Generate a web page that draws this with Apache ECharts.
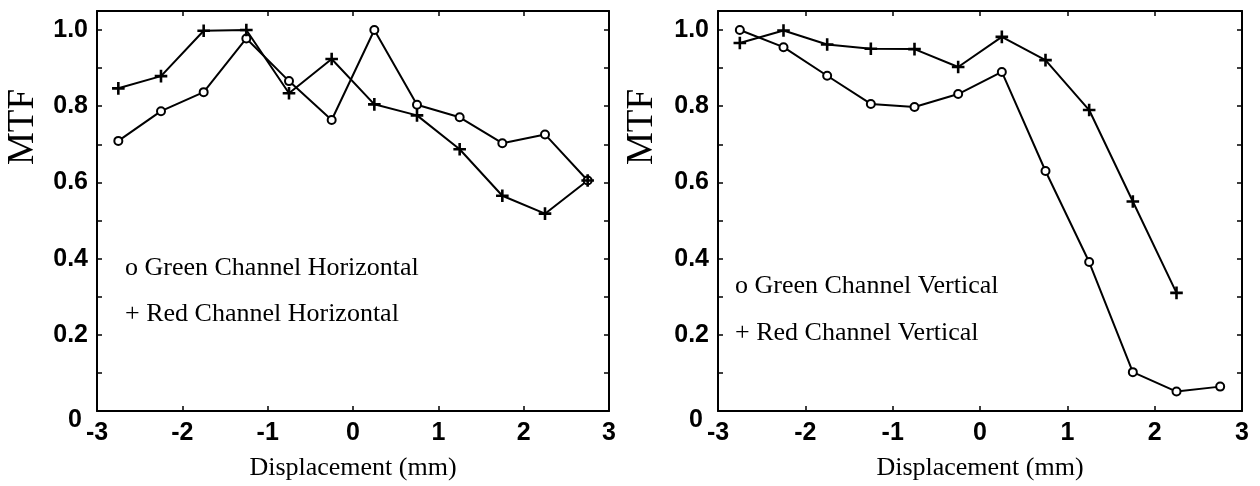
<!DOCTYPE html>
<html>
<head>
<meta charset="utf-8">
<script src="https://cdn.jsdelivr.net/npm/echarts@6/dist/echarts.min.js"></script>
<style>
html,body{margin:0;padding:0;background:#fff}
#main{width:1260px;height:486px}
</style>
</head>
<body>
<div id="main"></div>
<script>
// displacement positions (mm)
var disp = [-2.75, -2.25, -1.75, -1.25, -0.75, -0.25, 0.25, 0.75, 1.25, 1.75, 2.25, 2.75];
// horizontal
var greenH = [0.709, 0.787, 0.837, 0.978, 0.866, 0.764, 1.0, 0.804, 0.771, 0.703, 0.726, 0.605];
var redH = [0.847, 0.879, 0.998, 1.0, 0.834, 0.924, 0.805, 0.776, 0.687, 0.565, 0.518, 0.605];
// vertical
var greenV = [1.0, 0.955, 0.880, 0.806, 0.798, 0.832, 0.890, 0.630, 0.391, 0.102, 0.051, 0.064];
var redV = [0.966, 0.999, 0.962, 0.951, 0.950, 0.903, 0.982, 0.921, 0.790, 0.550, 0.310];

var legendH = ['o Green Channel Horizontal', '+ Red Channel Horizontal'];
var legendV = ['o Green Channel Vertical', '+ Red Channel Vertical'];

function pairs(ys) {
    var out = [];
    for (var i = 0; i < ys.length; i++) out.push([disp[i], ys[i]]);
    return out;
}

var plus = 'path://M4.55,0h0.9v4.55h4.55v0.9h-4.55v4.55h-0.9v-4.55h-4.55v-0.9h4.55z';
var tickFont = {fontFamily: 'Liberation Sans', fontWeight: 'bold', fontSize: 25, color: '#000'};
var axLine = {onZero: false, lineStyle: {color: '#000', width: 2}};
var axTick = {inside: true, length: 5, lineStyle: {color: '#000', width: 1.5}};

function xAxes(g) {
    return [{
        gridIndex: g, type: 'value', min: -3, max: 3, interval: 1,
        axisLine: axLine, axisTick: axTick, splitLine: {show: false},
        axisLabel: Object.assign({margin: 10}, tickFont),
        name: 'Displacement (mm)', nameLocation: 'middle', nameGap: 44,
        nameTextStyle: {fontFamily: 'Liberation Serif', fontSize: 26, color: '#000'}
    }, {
        gridIndex: g, type: 'value', min: -3, max: 3, interval: 1, position: 'top',
        axisLine: axLine, axisTick: axTick, splitLine: {show: false}, axisLabel: {show: false}
    }];
}

function yAxes(g) {
    return [{
        gridIndex: g, type: 'value', min: 0, max: 1.05, interval: 0.1,
        axisLine: axLine, axisTick: axTick, splitLine: {show: false},
        axisLabel: Object.assign({
            margin: 9,
            formatter: function (v) {
                var k = Math.round(v * 10);
                if (Math.abs(v * 10 - k) > 1e-6 || k % 2) return '';
                return k === 0 ? '{z|0}' : (k / 10).toFixed(1);
            },
            rich: {z: {fontFamily: 'Liberation Sans', fontWeight: 'bold', fontSize: 25, color: '#000', padding: [18, 6, 0, 0]}}
        }, tickFont)
    }, {
        gridIndex: g, type: 'value', min: 0, max: 1.05, interval: 0.1, position: 'right',
        axisLine: axLine, axisTick: axTick, splitLine: {show: false}, axisLabel: {show: false}
    }];
}

function line(ys, g, circle) {
    return {
        type: 'line', xAxisIndex: g * 2, yAxisIndex: g * 2, data: pairs(ys),
        symbol: circle ? 'emptyCircle' : plus, symbolSize: circle ? 8 : 11,
        lineStyle: {color: '#000', width: 2},
        itemStyle: {color: '#000', borderColor: '#000', borderWidth: 1.6},
        silent: true, animation: false
    };
}

function label(txt, x, y) {
    return {type: 'text', x: x, y: y, silent: true,
        style: {text: txt, font: '26px "Liberation Serif"', fill: '#000', verticalAlign: 'middle'}};
}

function mtf(x, y) {
    return {type: 'text', x: x, y: y, rotation: Math.PI / 2, silent: true,
        style: {text: 'MTF', font: '37px "Liberation Serif"', fill: '#000', align: 'center', verticalAlign: 'middle'}};
}

var chart = echarts.init(document.getElementById('main'));
chart.setOption({
    animation: false,
    backgroundColor: '#fff',
    grid: [
        {left: 97, top: 11, width: 512, height: 402},
        {left: 718, top: 11, width: 524, height: 401}
    ],
    xAxis: xAxes(0).concat(xAxes(1)),
    yAxis: yAxes(0).concat(yAxes(1)),
    series: [
        line(greenH, 0, true), line(redH, 0, false),
        line(greenV, 1, true), line(redV, 1, false)
    ],
    graphic: [
        label(legendH[0], 125, 268), label(legendH[1], 125, 314),
        label(legendV[0], 735, 286), label(legendV[1], 735, 333),
        mtf(23, 127), mtf(642, 127)
    ]
});
</script>
</body>
</html>
